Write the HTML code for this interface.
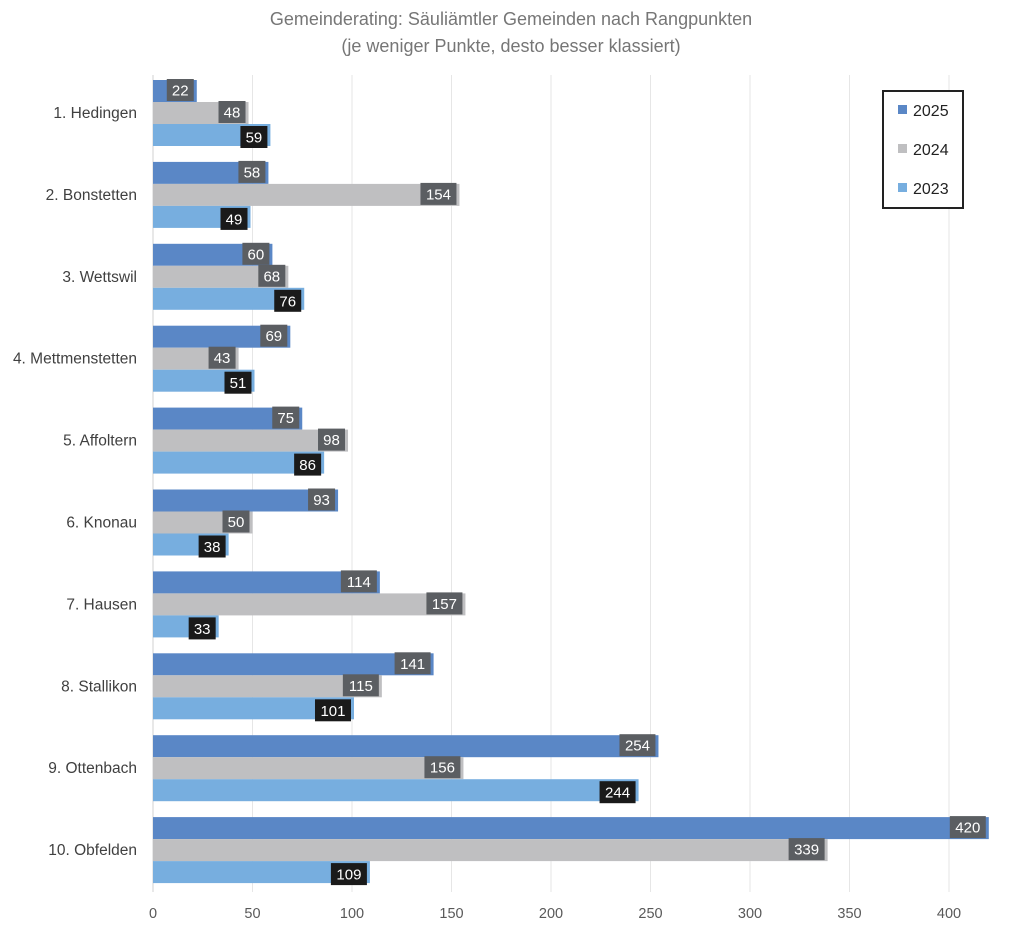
<!DOCTYPE html>
<html><head><meta charset="utf-8"><style>
body{margin:0;background:#fff;width:1022px;height:938px;overflow:hidden}
svg{display:block;font-family:"Liberation Sans",sans-serif}
</style></head><body>
<svg id="chart" width="1022" height="938">
<text x="511" y="25" text-anchor="middle" font-size="18" fill="#767676">Gemeinderating: Säuliämtler Gemeinden nach Rangpunkten</text>
<text x="511" y="52" text-anchor="middle" font-size="18" fill="#767676">(je weniger Punkte, desto besser klassiert)</text>
<g id="grid"></g><g id="bars"></g><g id="labels"></g><g id="ticks"></g><g id="cats"></g>
<g>
<rect x="883" y="91" width="80" height="117" fill="#fff" stroke="#222" stroke-width="2"/>
<rect x="898" y="105" width="9" height="9" fill="#5a87c6"/>
<text x="913" y="116" font-size="16" fill="#222">2025</text>
<rect x="898" y="144" width="9" height="9" fill="#bfbfc1"/>
<text x="913" y="155" font-size="16" fill="#222">2024</text>
<rect x="898" y="183" width="9" height="9" fill="#77aedf"/>
<text x="913" y="194" font-size="16" fill="#222">2023</text>
</g>
</svg>
<script>
const categories=["1. Hedingen","2. Bonstetten","3. Wettswil","4. Mettmenstetten","5. Affoltern","6. Knonau","7. Hausen","8. Stallikon","9. Ottenbach","10. Obfelden"];
const values2025=[22,58,60,69,75,93,114,141,254,420];
const values2024=[48,154,68,43,98,50,157,115,156,339];
const values2023=[59,49,76,51,86,38,33,101,244,109];
const tickValues=[0,50,100,150,200,250,300,350,400];
const seriesNames=["2025","2024","2023"];
const NS="http://www.w3.org/2000/svg";
const x=v=>153+v*1.99;
const groupTop=i=>80+i*81.9;
function mk(t,a,p){const e=document.createElementNS(NS,t);for(const k in a)e.setAttribute(k,a[k]);p.appendChild(e);return e;}
const grid=document.getElementById('grid'),ticks=document.getElementById('ticks'),bars=document.getElementById('bars'),labels=document.getElementById('labels'),cats=document.getElementById('cats');
tickValues.forEach(v=>{
 const l=mk('line',{x1:x(v),x2:x(v),y1:75,y2:892,stroke:v===0?'#d0d0d0':'#e6e6e6','stroke-width':1},grid);
 
 
 const t=mk('text',{x:x(v),y:918,'text-anchor':'middle','font-size':14.5,fill:'#595959'},ticks);
 t.textContent=v;
 
 
});
const series=[values2025,values2024,values2023];
const colors=['#5a87c6','#bfbfc1','#77aedf'];
const lblBg=['#5b5e62','#5b5e62','#1a1a1a'];
categories.forEach((c,i)=>{
 const gt=groupTop(i);
 const ct=mk('text',{x:137,y:gt+38,'text-anchor':'end','font-size':15.5,fill:'#404040'},cats);
 ct.textContent=c;
 
 
 series.forEach((s,j)=>{
  const v=s[i],y=gt+j*22;
  const r=mk('rect',{x:x(0),y:y,width:x(v)-x(0),height:22,fill:colors[j]},bars);
  
  
  const w=String(v).length*9+9, ex=x(v)-3;
  const by=y+(j===2?2:-1);
  const b=mk('rect',{x:ex-w,y:by,width:w,height:22,fill:lblBg[j]},labels);
  
  
  const t=mk('text',{x:ex-w/2,y:by+16.5,'text-anchor':'middle','font-size':15,fill:'#fff'},labels);
  t.textContent=v;
  
  
 });
});
</script>
</body></html>
